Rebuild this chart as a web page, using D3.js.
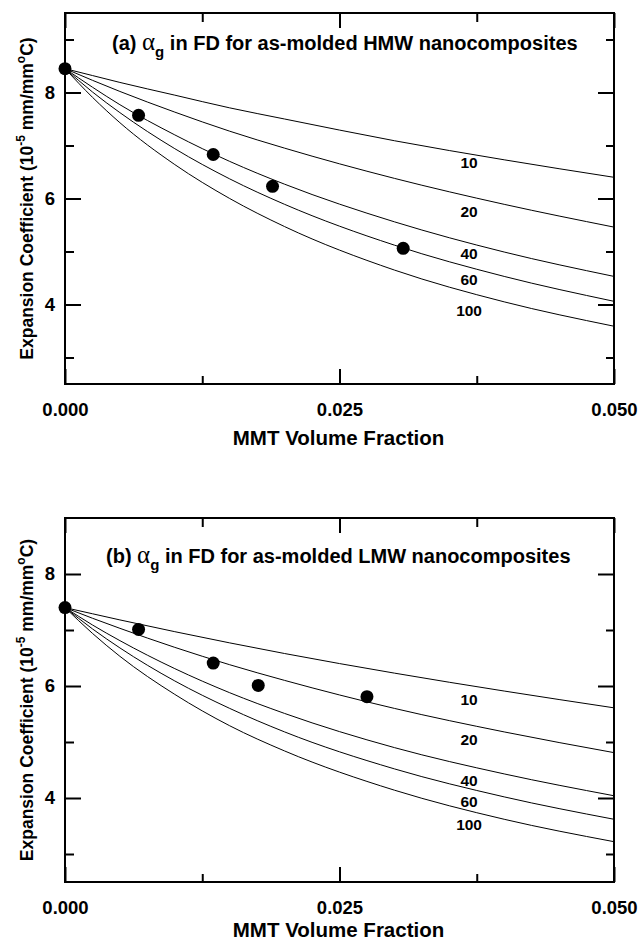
<!DOCTYPE html>
<html>
<head>
<meta charset="utf-8">
<script src="https://cdn.jsdelivr.net/npm/d3@7"></script>
<style>
body { margin: 0; background: #fff; }
text { font-family: "Liberation Sans", Arial, sans-serif; font-weight: bold; fill: #000; }
</style>
</head>
<body>
<div id="chart"></div>
<script>
var w = 639;
var h = 941;

// volume fractions where the model curves were read
var fractions = [0, 0.0025, 0.005, 0.01, 0.015, 0.02, 0.03, 0.04, 0.05];
var aspectRatios = [10, 20, 40, 60, 100];

// (a) HMW curves, one per aspect ratio
var hmw10  = [8.45, 8.32, 8.19, 7.95, 7.71, 7.50, 7.09, 6.73, 6.40];
var hmw20  = [8.45, 8.23, 8.02, 7.63, 7.27, 6.95, 6.38, 5.89, 5.46];
var hmw40  = [8.45, 8.10, 7.77, 7.20, 6.70, 6.27, 5.56, 4.99, 4.53];
var hmw60  = [8.45, 8.01, 7.62, 6.94, 6.37, 5.89, 5.12, 4.53, 4.06];
var hmw100 = [8.45, 7.91, 7.43, 6.64, 6.00, 5.47, 4.65, 4.05, 3.59];
var hmwDotX = [0, 0.0067, 0.0135, 0.0189, 0.0308];
var hmwDotY = [8.45, 7.57, 6.83, 6.23, 5.06];
var hmwLabelY = [6.67, 5.76, 4.96, 4.47, 3.89];

// (b) LMW curves
var lmw10  = [7.40, 7.29, 7.18, 6.97, 6.77, 6.58, 6.23, 5.91, 5.61];
var lmw20  = [7.40, 7.21, 7.03, 6.69, 6.38, 6.10, 5.60, 5.18, 4.81];
var lmw40  = [7.40, 7.09, 6.81, 6.31, 5.88, 5.51, 4.90, 4.43, 4.04];
var lmw60  = [7.40, 7.02, 6.68, 6.09, 5.60, 5.18, 4.52, 4.02, 3.62];
var lmw100 = [7.40, 6.94, 6.53, 5.85, 5.29, 4.84, 4.14, 3.62, 3.22];
var lmwDotX = [0, 0.0067, 0.0135, 0.0176, 0.0275];
var lmwDotY = [7.40, 7.01, 6.41, 6.01, 5.81];
var lmwLabelY = [5.75, 5.05, 4.32, 3.93, 3.52];

var labelX = 0.0368;
var xMajor = [0, 0.025, 0.05];
var xMinor = [0.0125, 0.0375];
var yMajor = [4, 6, 8];

var svg = d3.select("#chart")
            .append("svg")
            .attr("width", w)
            .attr("height", h);

var left = 65, right = 614;

function drawPanel(opt) {
    var g = svg.append("g");
    var x = d3.scaleLinear().domain([0, 0.05]).range([left, right]);
    var y = d3.scaleLinear().domain(opt.yDomain).range([opt.bottom, opt.top]);

    // model curves
    var line = d3.line()
        .x((d) => x(d[0]))
        .y((d) => y(d[1]))
        .curve(d3.curveMonotoneX);
    opt.curves.forEach(function(c) {
        g.append("path")
            .datum(fractions.map((f, i) => [f, c[i]]))
            .attr("d", line)
            .attr("fill", "none")
            .attr("stroke", "#000")
            .attr("stroke-width", 1);
    });

    // curve labels
    g.selectAll(".lbl")
        .data(aspectRatios)
        .enter()
        .append("text")
        .attr("x", x(labelX))
        .attr("y", (d, i) => y(opt.labelY[i]))
        .attr("dy", "0.35em")
        .attr("text-anchor", "middle")
        .style("font-size", "15.5px")
        .text((d) => d);

    // measured points
    g.selectAll(".dot")
        .data(opt.dotX)
        .enter()
        .append("circle")
        .attr("cx", (d) => x(d))
        .attr("cy", (d, i) => y(opt.dotY[i]))
        .attr("r", 6.5)
        .attr("fill", "#000");

    // axes, ticks pointing inward
    function ax(axis, tx, ty, values, len, fmt) {
        var a = axis.tickValues(values).tickSize(-len).tickPadding(10);
        a.tickFormat(fmt || "");
        var sel = g.append("g")
            .attr("transform", "translate(" + tx + "," + ty + ")")
            .call(a);
        sel.select(".domain").remove();
        sel.selectAll("line").attr("stroke-width", 2);
        sel.selectAll("text")
            .style("font-size", "18.5px")
            .style("font-family", "'Liberation Sans', Arial, sans-serif");
        return sel;
    }
    ax(d3.axisBottom(x), 0, opt.bottom, xMajor, 15, d3.format(".3f"))
        .selectAll("text").attr("dy", "1.2em");
    ax(d3.axisBottom(x), 0, opt.bottom, xMinor, 8);
    ax(d3.axisTop(x), 0, opt.top, xMajor, 15);
    ax(d3.axisTop(x), 0, opt.top, xMinor, 9);
    ax(d3.axisLeft(y), left, 0, yMajor, 16, d3.format("d"));
    ax(d3.axisLeft(y), left, 0, opt.yMinor, 9);
    ax(d3.axisRight(y), right, 0, yMajor, 16);
    ax(d3.axisRight(y), right, 0, opt.yMinor, 8);

    g.append("rect")
        .attr("x", left)
        .attr("y", opt.top)
        .attr("width", right - left)
        .attr("height", opt.bottom - opt.top)
        .attr("fill", "none")
        .attr("stroke", "#000")
        .attr("stroke-width", 2);

    // panel title
    var t = g.append("text")
        .attr("x", opt.titleX)
        .attr("y", opt.titleY)
        .style("font-size", "20px");
    t.append("tspan").text(opt.tag + " ");
    t.append("tspan")
        .style("font-family", "'Liberation Serif', serif")
        .style("font-weight", "normal")
        .style("font-size", "25px")
        .text("\u03b1");
    t.append("tspan").attr("dy", 7).style("font-size", "15px").text("g");
    t.append("tspan").attr("dy", -7).text(" in FD for as-molded " + opt.grade + " nanocomposites");

    // x title
    g.append("text")
        .attr("x", (left + right) / 2 - 1)
        .attr("y", opt.xTitleY)
        .attr("text-anchor", "middle")
        .style("font-size", "20.5px")
        .text("MMT Volume Fraction");

    // y title
    var yt = g.append("text")
        .attr("transform", "translate(33," + ((opt.top + opt.bottom) / 2) + ") rotate(-90)")
        .attr("text-anchor", "middle")
        .style("font-size", "17.5px");
    yt.append("tspan").text("Expansion Coefficient (10");
    yt.append("tspan").attr("dy", -8).style("font-size", "12px").text("-5");
    yt.append("tspan").attr("dy", 8).text(" mm/mm");
    yt.append("tspan").attr("dy", -8).style("font-size", "12px").text("o");
    yt.append("tspan").attr("dy", 8).text("C)");
}

drawPanel({
    top: 13, bottom: 384, yDomain: [2.5, 9.5], yMinor: [3, 5, 7, 9],
    curves: [hmw10, hmw20, hmw40, hmw60, hmw100],
    dotX: hmwDotX, dotY: hmwDotY, labelY: hmwLabelY,
    tag: "(a)", grade: "HMW", titleX: 112, titleY: 50, xTitleY: 445
});
drawPanel({
    top: 518, bottom: 882, yDomain: [2.5, 9], yMinor: [3, 5, 7],
    curves: [lmw10, lmw20, lmw40, lmw60, lmw100],
    dotX: lmwDotX, dotY: lmwDotY, labelY: lmwLabelY,
    tag: "(b)", grade: "LMW", titleX: 106, titleY: 563, xTitleY: 937
});
</script>
</body>
</html>
